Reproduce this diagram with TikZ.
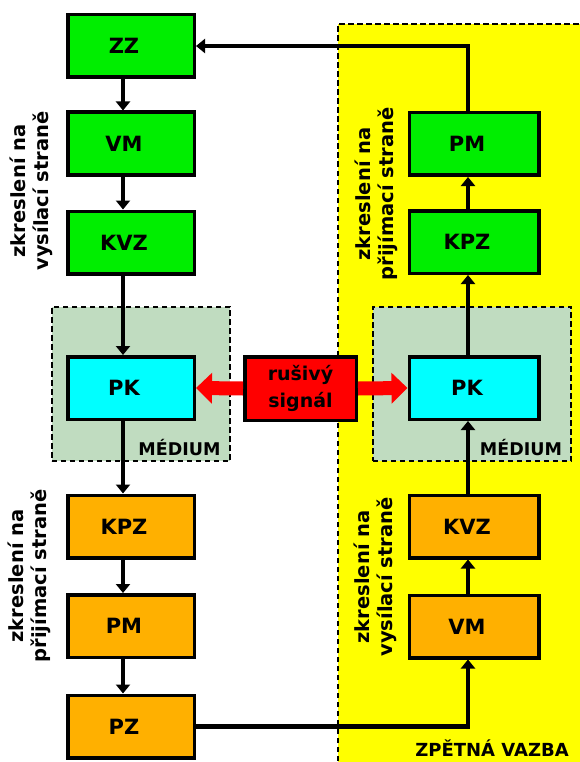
\documentclass[tikz,border=0pt]{standalone}
\usepackage{fontspec}
\setmainfont{DejaVu Sans}
\usetikzlibrary{arrows.meta}
\definecolor{boxgreen}{RGB}{0,238,0}
\definecolor{boxcyan}{RGB}{0,255,255}
\definecolor{boxorange}{RGB}{255,176,0}
\definecolor{bgyellow}{RGB}{255,255,0}
\definecolor{medfill}{RGB}{192,220,192}
\definecolor{noisered}{RGB}{255,0,0}
% text inside the blocks sits a little left of the block centre
\newcommand{\lft}[1]{\hspace*{-14pt}#1}
\tikzset{
  blk/.style={draw=black, line width=3.5pt, minimum height=62.5pt,
    font=\fontsize{21}{24}\selectfont\bfseries, inner sep=0pt},
  lblk/.style={blk, minimum width=126.5pt},
  rblk/.style={blk, minimum width=129.5pt},
  medbox/.style={draw=black, fill=medfill, line width=1.6pt,
    dash pattern=on 5.5pt off 3.5pt},
  medtext/.style={font=\fontsize{17.5}{20}\selectfont\bfseries, inner sep=0pt},
  sidelabel/.style={rotate=90, align=center, inner sep=0pt,
    font=\fontsize{19.5}{23}\selectfont\bfseries},
  flow/.style={line width=4.5pt, -{Triangle[width=14pt,length=9pt]}},
  noise/.style={draw=noisered, line width=14pt,
    -{Triangle[width=30pt,length=16pt]}},
}
\begin{document}
\begin{tikzpicture}[x=1pt,y=-1pt]
\useasboundingbox (0,0) rectangle (579,762);

% feedback area
\fill[bgyellow] (338,24) rectangle (585,770);
\draw[line width=1.6pt, dash pattern=on 5.5pt off 3.5pt] (338,770) -- (338,24) -- (585,24);
\node[medtext, font=\fontsize{18}{20}\selectfont\bfseries] (zv) at (492,748) {ZPĚTNÁ VAZBA};

% transmission media
\node[medbox, minimum width=178.5pt, minimum height=154.5pt] (medL) at (141,384) {};
\node[medbox, minimum width=198.5pt, minimum height=154.5pt] (medR) at (472,384) {};
\node[medtext] (medLt) at (179.5,448) {MÉDIUM};
\node[medtext] (medRt) at (521,448) {MÉDIUM};

% forward path
\node[lblk, fill=boxgreen] (zz)   at (131,46)    {\lft{ZZ}};
\node[lblk, fill=boxgreen] (vm1)  at (131,143.5) {\lft{VM}};
\node[lblk, fill=boxgreen] (kvz1) at (131,242.5) {\lft{KVZ}};
\node[lblk, fill=boxcyan]  (pk1)  at (131,388)   {\lft{PK}};
\node[lblk, fill=boxorange] (kpz1) at (131,526.5) {\lft{KPZ}};
\node[lblk, fill=boxorange] (pm1)  at (131,626)   {\lft{PM}};
\node[lblk, fill=boxorange] (pz)   at (131,726.5) {\lft{PZ}};

% return path
\node[rblk, fill=boxgreen] (pm2)  at (474,144)   {\lft{PM}};
\node[rblk, fill=boxgreen] (kpz2) at (474,242)   {\lft{KPZ}};
\node[rblk, fill=boxcyan]  (pk2)  at (474,388)   {\lft{PK}};
\node[rblk, fill=boxorange] (kvz2) at (474,526.5) {\lft{KVZ}};
\node[rblk, fill=boxorange] (vm2)  at (474,626.5) {\lft{VM}};

% noise source
\node[draw=black, line width=3.5pt, fill=noisered, minimum width=111.5pt, minimum height=63.5pt,
  align=center, inner sep=0pt, font=\fontsize{19}{27}\selectfont\bfseries]
  (rs) at (300.5,388.5) {rušivý\\signál};

% side labels
\node[sidelabel] (lab1) at (31,191) {zkreslení na\\vysílací straně};
\node[sidelabel] (lab2) at (29,576) {zkreslení na\\přijímací straně};
\node[sidelabel] (lab3) at (376,194) {zkreslení na\\přijímací straně};
\node[sidelabel] (lab4) at (375,577) {zkreslení na\\vysílací straně};

% column axes of the connectors
\coordinate (cl) at (123,0);
\coordinate (cr) at (468,0);

% forward connectors
\draw[flow] (zz.south -| cl)   -- (vm1.north -| cl);
\draw[flow] (vm1.south -| cl)  -- (kvz1.north -| cl);
\draw[flow] (kvz1.south -| cl) -- (pk1.north -| cl);
\draw[flow] (pk1.south -| cl)  -- (kpz1.north -| cl);
\draw[flow] (kpz1.south -| cl) -- (pm1.north -| cl);
\draw[flow] (pm1.south -| cl)  -- (pz.north -| cl);

% return connectors
\draw[flow] (pz.east) -- (pz.east -| cr) -- (vm2.south -| cr);
\draw[flow] (vm2.north -| cr)  -- (kvz2.south -| cr);
\draw[flow] (kvz2.north -| cr) -- (pk2.south -| cr);
\draw[flow] (pk2.north -| cr)  -- (kpz2.south -| cr);
\draw[flow] (kpz2.north -| cr) -- (pm2.south -| cr);
\draw[flow] (pm2.north -| cr) -- (zz.east -| cr) -- (zz.east);

% noise injection
\draw[noise] (rs.west) -- (pk1.east);
\draw[noise] (rs.east) -- (pk2.west);
\end{tikzpicture}
\end{document}
